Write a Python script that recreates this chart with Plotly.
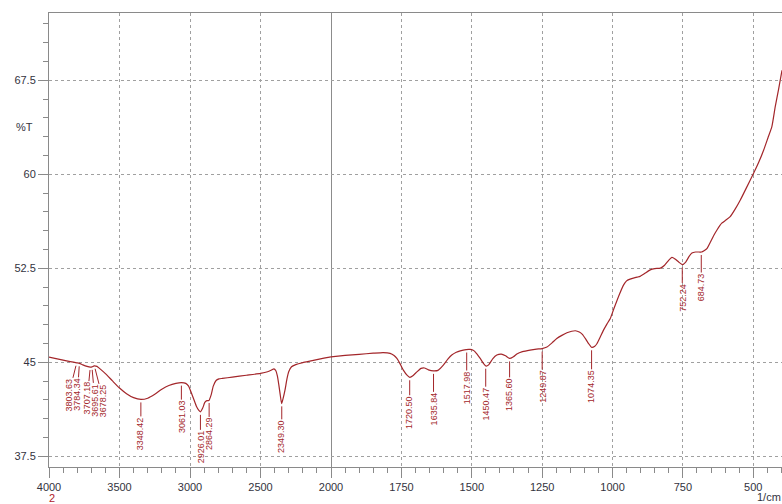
import numpy as np
import plotly.graph_objects as go

# ---- spectrum data (wavenumber 1/cm, %T) ----
wavenumber = [4000, 3950, 3900, 3850, 3803, 3784, 3760, 3730, 3707, 3695, 3680, 3660, 3640, 3600,
              3550, 3500, 3450, 3400, 3348, 3300, 3250, 3200, 3150, 3100, 3061, 3030, 3010, 2990,
              2970, 2953, 2940, 2926, 2910, 2895, 2880, 2866, 2850, 2835, 2815, 2795, 2770, 2700,
              2600, 2500, 2450, 2420, 2405, 2392, 2380, 2370, 2360, 2350, 2340, 2326, 2312, 2300,
              2280, 2250, 2200, 2150, 2100, 2050, 2000, 1950, 1900, 1850, 1815, 1790, 1776, 1766,
              1755, 1743, 1730, 1720, 1708, 1695, 1680, 1668, 1654, 1636, 1620, 1601, 1585, 1571,
              1555, 1541, 1520, 1506, 1495, 1488, 1470, 1458, 1449, 1440, 1425, 1411, 1395, 1380,
              1366, 1352, 1340, 1320, 1293, 1270, 1250, 1233, 1215, 1198, 1180, 1162, 1145, 1132,
              1118, 1108, 1095, 1085, 1074, 1063, 1055, 1044, 1032, 1020, 1008, 997, 975, 960,
              950, 940, 926, 912, 902, 885, 866, 850, 830, 815, 800, 789, 778, 765, 752, 740,
              728, 718, 705, 690, 684, 675, 664, 650, 641, 629, 612, 597, 582, 565, 546, 525,
              499, 480, 463, 448, 434, 422, 410, 398]
transmittance = [45.42, 45.30, 45.18, 45.06, 44.96, 44.92, 44.80, 44.68, 44.62, 44.64, 44.72, 44.68, 44.50, 44.10,
                 43.52, 42.95, 42.50, 42.18, 42.04, 42.14, 42.45, 42.85, 43.15, 43.32, 43.38, 43.32, 43.10, 42.55,
                 41.95, 41.45, 41.20, 41.05, 41.35, 41.80, 41.95, 41.95, 42.40, 43.10, 43.55, 43.68, 43.72, 43.82,
                 43.97, 44.12, 44.25, 44.40, 44.48, 44.35, 43.90, 43.20, 42.40, 41.70, 42.10, 42.80, 43.70, 44.25,
                 44.65, 44.82, 44.98, 45.10, 45.22, 45.33, 45.44, 45.55, 45.64, 45.73, 45.78, 45.72, 45.55, 45.31,
                 44.90, 44.38, 43.98, 43.80, 43.95, 44.24, 44.52, 44.55, 44.40, 44.32, 44.36, 44.78, 45.25, 45.58,
                 45.80, 45.92, 46.02, 46.03, 45.96, 45.84, 45.31, 44.90, 44.70, 44.80, 45.30, 45.58, 45.66, 45.52,
                 45.31, 45.45, 45.66, 45.85, 45.98, 46.06, 46.10, 46.22, 46.55, 46.90, 47.15, 47.36, 47.48, 47.52,
                 47.42, 47.25, 46.85, 46.50, 46.19, 46.28, 46.50, 47.00, 47.57, 48.05, 48.50, 49.17, 50.45, 51.20,
                 51.50, 51.62, 51.72, 51.80, 51.86, 52.10, 52.38, 52.48, 52.52, 52.75, 53.15, 53.37, 53.25, 53.00,
                 52.80, 53.00, 53.45, 53.72, 53.80, 53.80, 53.80, 53.90, 54.10, 54.70, 55.10, 55.56, 56.10, 56.35,
                 56.62, 57.20, 57.95, 58.90, 60.08, 61.00, 61.94, 62.90, 63.80, 65.40, 66.80, 68.30]

# ---- peak labels ----
peak_wn = [3803.63, 3784.34, 3707.18, 3695.61, 3678.25, 3348.42, 3061.03, 2926.01, 2864.29,
           2349.30, 1720.50, 1635.84, 1517.98, 1450.47, 1365.60, 1249.87, 1074.35, 752.24, 684.73]
peak_labels = ["%.2f" % v for v in peak_wn]
# label offsets in pixels (text centre relative to the peak point)
label_dx = [-8, -2, -3, 3, 9, 0, 0, 0, 0, 0, 0, 0, 0, 0, 0, 0, 0, 0, 0]
label_dy = [32, 31, 31, 33, 35, 34, 34, 35, 34, 33, 35, 38, 38, 38, 36, 38, 39, 33, 35]

# axis ticks
x_left_ticks = [4000, 3500, 3000, 2500, 2000]
x_right_ticks = [1750, 1500, 1250, 1000, 750, 500]
y_ticks = [37.5, 45, 52.5, 60, 67.5]

BREAK = 2000
LINE = "#a3262a"
TXT = "#a3262a"
AX = "#8a8a8a"
GRID = "#a0a0a0"
FONT = "Liberation Sans, Arial, sans-serif"
TICKFONT = dict(family=FONT, size=11, color="#333340")

wn = np.array(wavenumber, dtype=float)
tr = np.array(transmittance, dtype=float)
hi = wn >= BREAK
lo = wn <= BREAK

fig = go.Figure()
line_style = dict(color=LINE, width=1.2, shape="spline", smoothing=0.5)
fig.add_trace(go.Scatter(x=wn[hi], y=tr[hi], mode="lines", line=line_style,
                         xaxis="x", yaxis="y", showlegend=False, hoverinfo="skip"))
fig.add_trace(go.Scatter(x=wn[lo], y=tr[lo], mode="lines", line=line_style,
                         xaxis="x2", yaxis="y", showlegend=False, hoverinfo="skip"))

# interpolate the curve value at each labelled peak
order = np.argsort(wn)
peak_t = np.interp(peak_wn, wn[order], tr[order])

annotations = []
for w, t, lab, dx, dy in zip(peak_wn, peak_t, peak_labels, label_dx, label_dy):
    annotations.append(dict(
        x=w, y=t, xref="x" if w >= BREAK else "x2", yref="y",
        text=lab, textangle=-90, showarrow=True, arrowhead=0, arrowwidth=1,
        arrowcolor=LINE, ax=dx, ay=dy, standoff=3, borderpad=0,
        font=dict(family=FONT, size=9, color=TXT)))

annotations += [
    dict(text="%T", xref="paper", yref="paper", x=-0.033, y=0.749, xanchor="center",
         yanchor="middle", showarrow=False,
         font=dict(family=FONT, size=11, color="#333340")),
    dict(text="1/cm", xref="paper", yref="paper", x=1.0, y=-0.081, xanchor="right",
         yanchor="bottom", showarrow=False, borderpad=0,
         font=dict(family=FONT, size=11, color="#333340")),
    dict(text="2", xref="paper", yref="paper", x=-0.001, y=-0.0837, xanchor="left",
         yanchor="bottom", showarrow=False, borderpad=0,
         font=dict(family=FONT, size=11, color="#b0202a")),
]

split = 282.0 / 733.0
common_x = dict(ticks="outside", ticklen=10, tickcolor=AX, tickwidth=1,
                showline=True, linecolor=AX, linewidth=1, mirror=True,
                showgrid=True, gridcolor=GRID, griddash="3px,3px", gridwidth=1,
                zeroline=False, tickfont=TICKFONT, anchor="y", automargin=False)

fig.update_layout(
    width=782, height=504,
    margin=dict(l=49, r=0, t=13, b=37, pad=0, autoexpand=False),
    paper_bgcolor="white", plot_bgcolor="white",
    showlegend=False,
    xaxis=dict(domain=[0, split], range=[4000, 2000], tickmode="array",
               tickvals=x_left_ticks,
               minor=dict(tickmode="linear", tick0=0, dtick=100, ticks="outside",
                          ticklen=5, tickcolor=AX, showgrid=False),
               **common_x),
    xaxis2=dict(domain=[split, 1], range=[2000, 398], tickmode="array",
                tickvals=x_right_ticks,
                minor=dict(tickmode="linear", tick0=0, dtick=50, ticks="outside",
                           ticklen=5, tickcolor=AX, showgrid=False),
                **common_x),
    yaxis=dict(range=[36.65, 72.87], tickmode="array", tickvals=y_ticks,
               ticks="outside", ticklen=10, tickcolor=AX,
               minor=dict(tickmode="linear", tick0=37.5, dtick=1.5, ticks="outside",
                          ticklen=5, tickcolor=AX, showgrid=False),
               showline=True, linecolor=AX, linewidth=1,
               showgrid=True, gridcolor=GRID, griddash="3px,3px",
               zeroline=False, tickfont=TICKFONT, anchor="x", automargin=False),
    shapes=[dict(type="line", xref="x2", yref="paper", x0=BREAK, x1=BREAK, y0=0, y1=1,
                 line=dict(color="#8c8c8c", width=2), layer="between")],
    annotations=annotations,
)

fig.write_html("out.html", config={"displayModeBar": False, "staticPlot": True},
               post_script="document.body.style.margin='0';document.body.style.overflow='hidden';")
